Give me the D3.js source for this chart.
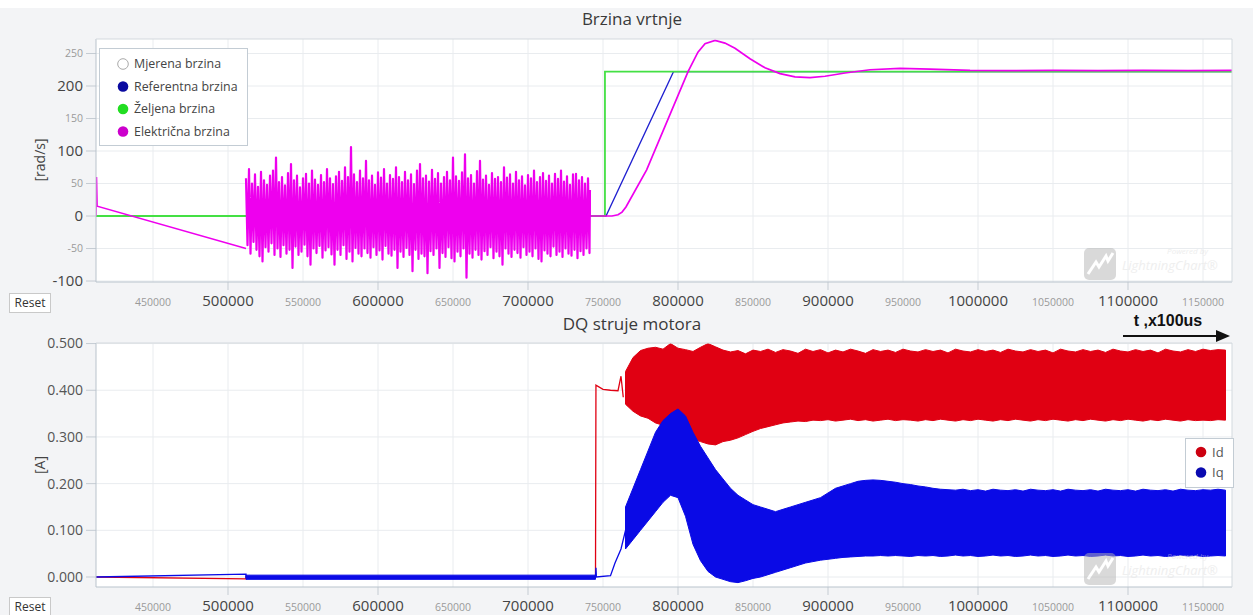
<!DOCTYPE html>
<html><head><meta charset="utf-8">
<script src="https://cdn.jsdelivr.net/npm/d3@7"></script>
<style>
html,body{margin:0;padding:0;background:#f3f4f6;}
svg{display:block;font-family:"Open Sans","Noto Sans",sans-serif;}
</style></head>
<body>
<svg id="c" width="1253" height="615"></svg>
<script>
// ---------- DATA ----------
const xTicks = [450000,500000,550000,600000,650000,700000,750000,800000,850000,900000,950000,1000000,1050000,1100000,1150000];
const speedTicks = [-100,-50,0,50,100,150,200,250];
const currentTicks = [0,0.1,0.2,0.3,0.4,0.5];
const speedLegend = ["Mjerena brzina","Referentna brzina","Željena brzina","Električna brzina"];
const currentLegend = ["Id","Iq"];

// Željena brzina (desired speed)
const desiredX = [412000, 751300, 751300, 1169333];
const desiredY = [0, 0, 222, 222];
// Referentna brzina (reference ramp)
const refX = [412000, 752000, 797000, 1169333];
const refY = [0, 0, 222, 222];
// Električna brzina – before noise
const elecStartX = [412000, 412400, 412800, 512000];
const elecStartY = [0, 60, 15, -50];
// Električna brzina – noisy segment, max/min per 2000 bin starting at 512000
const elecNoiseStart = 512000, elecNoiseStep = 2000;
const elecHi = [58,72,50,64,45,68,55,48,62,70, 90,52,60,47,66,80,55,62,44,58, 65,50,70,56,48,63,52,72,58,49,
  61,68,54,75,60,106,64,52,70,58, 85,55,62,48,67,59,72,50,63,57, 75,60,52,68,55,64,49,70,80,58,
  62,53,71,57,66,50,60,68,55,90, 61,54,67,95,58,63,50,69,85,56, 62,48,66,57,60,52,75,59,64,50,
  68,55,61,47,63,58,70,52,60,66, 54,62,50,65,57,70,53,61,48,64, 65,55,60,50,58];
const elecLo = [-45,-58,-40,-52,-62,-70,-48,-55,-42,-60, -50,-63,-45,-58,-52,-80,-47,-60,-55,-44, -62,-75,-50,-57,-46,-64,-53,-48,-59,-75,
  -52,-60,-45,-66,-55,-70,-49,-58,-62,-50, -57,-64,-48,-60,-53,-67,-46,-58,-61,-52, -80,-55,-63,-49,-60,-85,-52,-66,-58,-62,
  -88,-54,-60,-50,-80,-57,-63,-48,-65,-70, -55,-62,-50,-95,-58,-64,-52,-60,-67,-54, -60,-48,-65,-55,-62,-75,-50,-58,-63,-52,
  -57,-64,-48,-60,-55,-62,-50,-66,-70,-53, -58,-62,-47,-60,-55,-63,-50,-58,-61,-52, -65,-54,-60,-50,-57];
// Električna brzina – after noise
const elecEndX = [741300,741400,756000,760000,762700,765300,779100,806700,813300,818000,824700,831300,838000,848000,858000,868000,878000,888000,898000,911300,928000,948000,968000,994700,1020000,1050000,1080000,1110000,1140000,1169333];
const elecEndY = [40,0,0,2,6,14,71,222,252,265,270,266,258,242,228,219,214,213,215,220,225,227,226,224,223.5,224,223.5,224,223.5,224];

// Id (red)
const idLineX = [412000, 512000, 512000, 745000, 745300, 750000, 755000, 760000, 762000, 763500];
const idLineY = [0.000, -0.004, 0.000, 0.000, 0.411, 0.402, 0.400, 0.399, 0.43, 0.385];
// band envelopes sampled every 5000 from 765000
const bandStart = 765000, bandStep = 5000;
const idHi = [0.44,0.47,0.485,0.49,0.492,0.488,0.50,0.49,0.487,0.483,0.492,0.50,0.493,0.486,0.482,0.485,0.478,0.486,0.483,0.488,
  0.481,0.487,0.484,0.479,0.488,0.483,0.487,0.48,0.486,0.482,0.488,0.484,0.479,0.487,0.483,0.486,0.481,0.488,0.484,0.482,
  0.487,0.483,0.486,0.48,0.488,0.484,0.482,0.487,0.483,0.486,0.481,0.488,0.484,0.482,0.487,0.483,0.486,0.48,0.488,0.484,
  0.482,0.487,0.483,0.486,0.481,0.488,0.484,0.482,0.487,0.483,0.486,0.48,0.488,0.484,0.482,0.487,0.483,0.488,0.485,0.487,0.486];
const idLo = [0.37,0.355,0.345,0.34,0.33,0.325,0.315,0.31,0.30,0.295,0.29,0.285,0.283,0.29,0.293,0.298,0.305,0.312,0.318,0.322,
  0.326,0.33,0.332,0.334,0.333,0.336,0.335,0.337,0.334,0.336,0.338,0.335,0.337,0.334,0.336,0.338,0.335,0.337,0.336,0.334,
  0.337,0.335,0.338,0.336,0.334,0.337,0.335,0.338,0.336,0.334,0.337,0.335,0.338,0.336,0.334,0.337,0.335,0.338,0.336,0.334,
  0.337,0.335,0.338,0.336,0.334,0.337,0.335,0.338,0.336,0.334,0.337,0.335,0.338,0.336,0.334,0.337,0.335,0.336,0.335,0.337,0.336];
// Iq (blue)
const iqLineX = [412000, 512000, 512000, 745000, 745300, 745600, 755000, 758000, 762000, 765000];
const iqLineY = [0.000, 0.006, 0.000, 0.000, 0.02, 0.0, 0.003, 0.03, 0.06, 0.10];
const iqNoiseX = [512000, 745000];
const iqNoiseHi = [0.004, 0.004];
const iqNoiseLo = [-0.005, -0.005];
const iqHi = [0.15,0.19,0.23,0.27,0.31,0.335,0.35,0.36,0.345,0.31,0.28,0.255,0.23,0.21,0.19,0.175,0.165,0.155,0.15,0.145,
  0.14,0.145,0.15,0.155,0.16,0.165,0.17,0.18,0.19,0.195,0.20,0.205,0.207,0.208,0.207,0.205,0.203,0.20,0.198,0.195,
  0.193,0.19,0.188,0.187,0.186,0.188,0.185,0.187,0.184,0.188,0.186,0.185,0.187,0.184,0.188,0.186,0.185,0.187,0.184,0.188,
  0.186,0.185,0.187,0.184,0.188,0.186,0.185,0.187,0.184,0.188,0.186,0.185,0.187,0.184,0.188,0.186,0.185,0.187,0.186,0.188,0.186];
const iqLo = [0.06,0.08,0.10,0.12,0.14,0.16,0.175,0.17,0.13,0.07,0.035,0.012,0.0,-0.005,-0.01,-0.012,-0.008,-0.003,0.0,0.005,
  0.01,0.015,0.02,0.025,0.03,0.033,0.036,0.038,0.04,0.042,0.043,0.044,0.045,0.045,0.046,0.045,0.046,0.045,0.044,0.046,
  0.045,0.046,0.044,0.045,0.047,0.045,0.046,0.044,0.045,0.047,0.045,0.046,0.044,0.045,0.047,0.045,0.046,0.044,0.045,0.047,
  0.045,0.046,0.044,0.045,0.047,0.045,0.046,0.044,0.045,0.047,0.045,0.046,0.044,0.045,0.047,0.045,0.046,0.044,0.045,0.046,0.045];

// ---------- DRAW ----------
const svg = d3.select("#c");
const C = {magenta:"#ee00ee", green:"#44e044", blue:"#2020d0", red:"#e00012", blue2:"#0a0ae6", grid:"#e9ecef", axis:"#b9c3cc"};

svg.append("rect").attr("x",0).attr("y",0).attr("width",1253).attr("height",8).attr("fill","#fff");

function panel(top, bottom, yDomain, title, titleY, ytitle, ytitleY, resetY, xLabelY){
  const x = d3.scaleLinear().domain([412000,1169333]).range([96,1232]);
  const y = d3.scaleLinear().domain(yDomain).range([bottom, top]);
  const g = svg.append("g");
  g.append("rect").attr("x",96).attr("y",top).attr("width",1136).attr("height",bottom-top).attr("fill","#fff");
  g.append("text").attr("x",632).attr("y",titleY).attr("text-anchor","middle").attr("font-size",17).attr("fill","#3a3a3a").text(title);
  g.append("text").attr("transform",`translate(45,${ytitleY}) rotate(-90)`).attr("text-anchor","middle").attr("font-size",14).attr("fill","#444").text(ytitle);
  g.append("rect").attr("x",9.5).attr("y",resetY+0.5).attr("width",41).attr("height",19).attr("fill","#fff").attr("stroke","#c9c9c9");
  g.append("text").attr("x",30).attr("y",resetY+14).attr("text-anchor","middle").attr("font-size",12).attr("fill","#333").text("Reset");
  return {x,y,g,top,bottom,xLabelY};
}

function xAxis(p){
  const {x,g,top,bottom,xLabelY} = p;
  g.selectAll(".vg").data(xTicks).join("line").attr("x1",d=>x(d)).attr("x2",d=>x(d)).attr("y1",top).attr("y2",bottom).attr("stroke",C.grid);
  g.selectAll(".vt").data(xTicks.filter(d=>d%100000===0)).join("line").attr("x1",d=>x(d)).attr("x2",d=>x(d)).attr("y1",bottom).attr("y2",bottom+8).attr("stroke","#c5ccd3");
  g.selectAll(".xl").data(xTicks).join("text").attr("x",d=>x(d)).attr("y",xLabelY)
    .attr("text-anchor","middle").attr("font-size",d=>d%100000===0?15:10.5).attr("fill",d=>d%100000===0?"#444":"#9a9a9a").text(d=>d);
}

// ---- Top panel ----
const P1 = panel(39, 282, [-101.5, 272.3], "Brzina vrtnje", 25, "[rad/s]", 160, 293, 306);
xAxis(P1);
P1.g.selectAll(".hg").data(speedTicks).join("line").attr("x1",96).attr("x2",1232).attr("y1",d=>P1.y(d)).attr("y2",d=>P1.y(d)).attr("stroke",C.grid);
P1.g.selectAll(".yt").data(speedTicks).join("line").attr("x1",86).attr("x2",96).attr("y1",d=>P1.y(d)).attr("y2",d=>P1.y(d)).attr("stroke","#c5ccd3");
P1.g.selectAll(".yl").data(speedTicks).join("text").attr("x",83).attr("y",d=>P1.y(d)).attr("dy","0.35em").attr("text-anchor","end")
  .attr("font-size",d=>d%100===0?15:10.5).attr("fill",d=>d%100===0?"#444":"#9a9a9a").text(d=>d);

const clip1 = svg.append("clipPath").attr("id","clip1");
clip1.append("rect").attr("x",96).attr("y",39).attr("width",1136).attr("height",243);
const d1 = P1.g.append("g").attr("clip-path","url(#clip1)");
const line1 = d3.line().x(d=>P1.x(d[0])).y(d=>P1.y(d[1]));
d1.append("path").attr("d",line1(refX.map((v,i)=>[v,refY[i]]))).attr("fill","none").attr("stroke",C.blue).attr("stroke-width",1.3);
d1.append("path").attr("d",line1(desiredX.map((v,i)=>[v,desiredY[i]]))).attr("fill","none").attr("stroke",C.green).attr("stroke-width",1.8);
d1.append("path").attr("d",line1(elecStartX.map((v,i)=>[v,elecStartY[i]]))).attr("fill","none").attr("stroke",C.magenta).attr("stroke-width",1.4);
const noisePts = [];
elecHi.forEach((h,i)=>{ const xx = elecNoiseStart + i*elecNoiseStep; noisePts.push([xx,h]); noisePts.push([xx+elecNoiseStep/2, elecLo[i]]); });
noisePts.push([elecEndX[0], elecEndY[0]]);
d1.append("path").attr("d",line1(noisePts)).attr("fill","none").attr("stroke",C.magenta).attr("stroke-width",2.2).attr("stroke-linejoin","round");
d1.append("path").attr("d",line1(elecEndX.map((v,i)=>[v,elecEndY[i]]))).attr("fill","none").attr("stroke",C.magenta).attr("stroke-width",1.7);
P1.g.append("line").attr("x1",96).attr("x2",96).attr("y1",39).attr("y2",282).attr("stroke",C.axis);
P1.g.append("line").attr("x1",96).attr("x2",1232).attr("y1",282).attr("y2",282).attr("stroke",C.axis);
P1.g.append("line").attr("x1",96).attr("x2",1232).attr("y1",39).attr("y2",39).attr("stroke","#d3d9de");
P1.g.append("line").attr("x1",1232).attr("x2",1232).attr("y1",39).attr("y2",282).attr("stroke","#d3d9de");

// legend top
const lg = svg.append("g").attr("transform","translate(99,48)");
lg.append("rect").attr("x",0.5).attr("y",0.5).attr("width",148).attr("height",97).attr("fill","#fff").attr("stroke","#c3ccd4");
const legCol = [null, "#0a0aa0", "#22dd22", "#cc00cc"];
speedLegend.forEach((t,i)=>{
  const cy = 16 + i*22.5;
  lg.append("circle").attr("cx",24).attr("cy",cy).attr("r",5.3).attr("fill",legCol[i]||"#fff").attr("stroke",legCol[i]?"none":"#aaa");
  lg.append("text").attr("x",35).attr("y",cy).attr("dy","0.35em").attr("font-size",12.4).attr("fill","#444").text(t);
});

// ---- Bottom panel ----
const P2 = panel(343, 587, [-0.0214, 0.5012], "DQ struje motora", 330, "[A]", 465, 597, 611);
xAxis(P2);
P2.g.selectAll(".hg").data(currentTicks).join("line").attr("x1",96).attr("x2",1232).attr("y1",d=>P2.y(d)).attr("y2",d=>P2.y(d)).attr("stroke",C.grid);
P2.g.selectAll(".yt").data(currentTicks).join("line").attr("x1",86).attr("x2",96).attr("y1",d=>P2.y(d)).attr("y2",d=>P2.y(d)).attr("stroke","#c5ccd3");
P2.g.selectAll(".yl").data(currentTicks).join("text").attr("x",83).attr("y",d=>P2.y(d)).attr("dy","0.35em").attr("text-anchor","end")
  .attr("font-size",14).attr("fill","#555").text(d=>d3.format(".3f")(d));

const clip2 = svg.append("clipPath").attr("id","clip2");
clip2.append("rect").attr("x",96).attr("y",343).attr("width",1136).attr("height",244);
const d2 = P2.g.append("g").attr("clip-path","url(#clip2)");
const line2 = d3.line().x(d=>P2.x(d[0])).y(d=>P2.y(d[1]));
const area2 = d3.area().x(d=>P2.x(d[0])).y0(d=>P2.y(d[2])).y1(d=>P2.y(d[1]));
const bandX = (arr)=>arr.map((_,i)=>Math.min(bandStart+i*bandStep, 1169333));
d2.append("path").attr("d",line2(idLineX.map((v,i)=>[v,idLineY[i]]))).attr("fill","none").attr("stroke",C.red).attr("stroke-width",1.3);
const idX = bandX(idHi);
d2.append("path").attr("d",area2(idX.map((v,i)=>[v,idHi[i],idLo[i]]))).attr("fill",C.red).attr("stroke",C.red).attr("stroke-width",1);
d2.append("path").attr("d",line2(iqLineX.map((v,i)=>[v,iqLineY[i]]))).attr("fill","none").attr("stroke",C.blue2).attr("stroke-width",1.3);
d2.append("path").attr("d",area2(iqNoiseX.map((v,i)=>[v,iqNoiseHi[i],iqNoiseLo[i]]))).attr("fill",C.blue2).attr("stroke",C.blue2).attr("stroke-width",1);
const iqX = bandX(iqHi);
d2.append("path").attr("d",area2(iqX.map((v,i)=>[v,iqHi[i],iqLo[i]]))).attr("fill",C.blue2).attr("stroke",C.blue2).attr("stroke-width",1);
P2.g.append("line").attr("x1",96).attr("x2",96).attr("y1",343).attr("y2",587).attr("stroke",C.axis);
P2.g.append("line").attr("x1",96).attr("x2",1232).attr("y1",587).attr("y2",587).attr("stroke",C.axis);
P2.g.append("line").attr("x1",96).attr("x2",1232).attr("y1",343).attr("y2",343).attr("stroke","#d3d9de");
P2.g.append("line").attr("x1",1232).attr("x2",1232).attr("y1",343).attr("y2",587).attr("stroke","#d3d9de");

// legend bottom
const lg2 = svg.append("g").attr("transform","translate(1185,438)");
lg2.append("rect").attr("x",0.5).attr("y",0.5).attr("width",48).attr("height",49).attr("fill","#fff").attr("stroke","#c3ccd4");
const leg2Col = ["#cc0010","#0a0ab0"];
currentLegend.forEach((t,i)=>{
  const cy = 14 + i*20.5;
  lg2.append("circle").attr("cx",16).attr("cy",cy).attr("r",5.3).attr("fill",leg2Col[i]);
  lg2.append("text").attr("x",27).attr("y",cy).attr("dy","0.35em").attr("font-size",13).attr("fill","#555").text(t);
});

// watermarks
function watermark(x0,y0){
  const w = svg.append("g").attr("transform",`translate(${x0},${y0})`).attr("opacity",0.5);
  w.append("rect").attr("x",0).attr("y",0).attr("width",32).attr("height",32).attr("rx",5).attr("fill","#b5b5b5");
  w.append("path").attr("d","M4,26 L12,14 L15,19 L22,8 L24,13 L29,5").attr("fill","none").attr("stroke","#fff").attr("stroke-width",3);
  w.append("text").attr("x",124).attr("y",6).attr("text-anchor","end").attr("font-size",8).attr("font-style","italic").attr("fill","#dcdcdc").text("Powered by");
  w.append("text").attr("x",38).attr("y",22).attr("font-size",13).attr("font-style","italic").attr("fill","#e0e0e0").text("LightningChart®");
}
watermark(1084,248);
watermark(1084,553);

// axis direction arrow
svg.append("text").attr("x",1168).attr("y",326).attr("text-anchor","middle").attr("font-size",16).attr("font-weight","bold").attr("font-family","Liberation Sans, Arial, sans-serif").attr("fill","#111").text("t ,x100us");
svg.append("line").attr("x1",1123).attr("x2",1218).attr("y1",336).attr("y2",336).attr("stroke","#111").attr("stroke-width",2);
svg.append("path").attr("d","M1216,330 L1230,336 L1216,342 Z").attr("fill","#111");
</script>
</body></html>
